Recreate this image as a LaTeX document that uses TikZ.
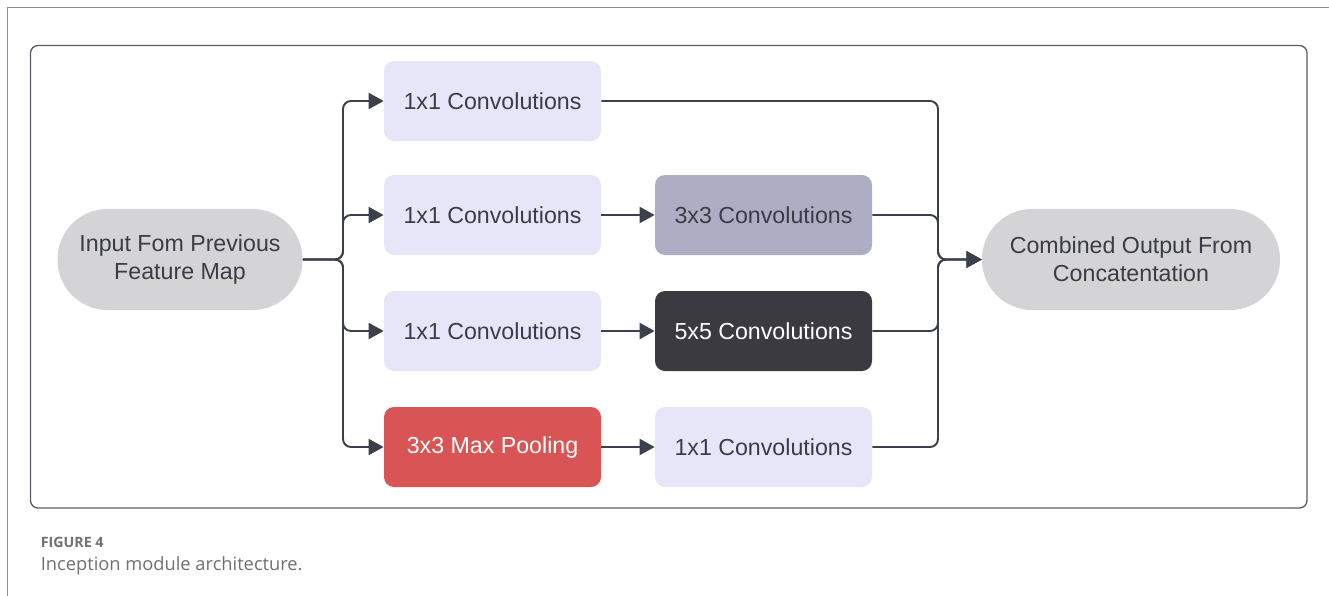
\documentclass[tikz,border=0pt]{standalone}
\usepackage{fontspec}
\setmainfont{Liberation Sans}
\newfontfamily\capfont{Open Sans}
\usetikzlibrary{arrows.meta}
\definecolor{lineclr}{RGB}{60,64,74}
\definecolor{textclr}{RGB}{58,60,70}
\definecolor{lav}{RGB}{230,230,248}
\definecolor{conv3}{RGB}{173,173,196}
\definecolor{conv5}{RGB}{58,58,64}
\definecolor{poolred}{RGB}{217,85,85}
\definecolor{pillgray}{RGB}{212,212,214}
\definecolor{pagegray}{RGB}{140,140,140}
\definecolor{framegray}{RGB}{88,92,100}
\definecolor{capgray}{RGB}{112,112,112}

\begin{document}
\begin{tikzpicture}[>={Triangle[length=0.3cm,width=0.32cm]},
  box/.style={rounded corners=0.2cm,minimum width=4.34cm,minimum height=1.6cm,
    font=\fontsize{13.2}{15.9}\selectfont,text=textclr,align=center},
  pill/.style={box,rounded corners=1cm,minimum height=2.02cm,fill=pillgray},
  flow/.style={->,line width=1.1pt,draw=lineclr,rounded corners=0.16cm}]
  \useasboundingbox (0,0) rectangle (26.58,-11.92);
  \draw[pagegray,line width=0.85pt] (26.58,-0.15) -- (0.15,-0.15) -- (0.15,-11.92);
  \draw[framegray,line width=0.75pt,rounded corners=0.15cm] (0.61,-0.91) rectangle (26.14,-10.16);

  \node[pill,minimum width=4.9cm] (in) at (3.6,-5.19) {Input Fom Previous\\Feature Map};
  \node[pill,minimum width=5.96cm] (out) at (22.62,-5.19) {Combined Output From\\Concatentation};

  \node[box,fill=lav] (a1) at (9.85,-2.02) {1x1 Convolutions};
  \node[box,fill=lav] (a2) at (9.85,-4.30) {1x1 Convolutions};
  \node[box,fill=lav] (a3) at (9.85,-6.62) {1x1 Convolutions};
  \node[box,fill=poolred,text=white] (a4) at (9.85,-8.94) {3x3 Max Pooling};
  \node[box,fill=conv3] (b2) at (15.27,-4.30) {3x3 Convolutions};
  \node[box,fill=conv5,text=white] (b3) at (15.27,-6.62) {5x5 Convolutions};
  \node[box,fill=lav] (b4) at (15.27,-8.94) {1x1 Convolutions};

  \coordinate (split) at (6.86,-5.19);
  \coordinate (merge) at (18.76,-5.19);
  \foreach \n in {a1,a2,a3,a4}
    \draw[flow] (in.east) -- (split) |- (\n.west);
  \foreach \n in {2,3,4}
    \draw[flow] (a\n) -- (b\n);
  \foreach \n in {a1,b2,b3,b4}
    \draw[flow] (\n.east) -| (merge) -- (out.west);

  \node[anchor=base west,inner sep=0,text=capgray,
    font=\capfont\bfseries\fontsize{8.1}{9}\selectfont] (fig) at (0.81,-10.94) {FIGURE 4};
  \node[anchor=base west,inner sep=0,text=capgray,
    font=\capfont\fontsize{10.4}{12}\selectfont] (cap) at (0.81,-11.40) {Inception module architecture.};
\end{tikzpicture}
\end{document}
